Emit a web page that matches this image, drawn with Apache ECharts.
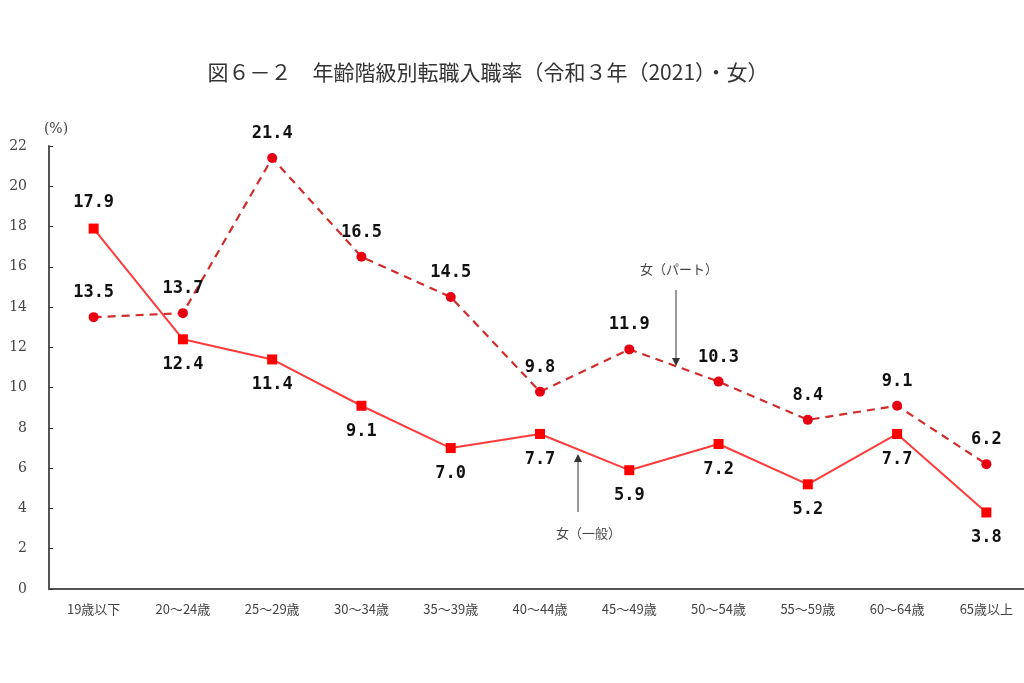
<!DOCTYPE html>
<html><head><meta charset="utf-8">
<script src="https://cdn.jsdelivr.net/npm/echarts@6/dist/echarts.min.js"></script>
<style>html,body{margin:0;padding:0;background:#fff}#c{width:1024px;height:683px}</style>
</head><body><div id="c"></div>
<script>
const categories = ['19歳以下','20～24歳','25～29歳','30～34歳','35～39歳','40～44歳','45～49歳','50～54歳','55～59歳','60～64歳','65歳以上'];
const ippan = [17.9, 12.4, 11.4, 9.1, 7.0, 7.7, 5.9, 7.2, 5.2, 7.7, 3.8];
const part = [13.5, 13.7, 21.4, 16.5, 14.5, 9.8, 11.9, 10.3, 8.4, 9.1, 6.2];
const ippanLabelPos = ['top','bottom','bottom','bottom','bottom','bottom','bottom','bottom','bottom','bottom','bottom'];
const titleText = '図６－２　年齢階級別転職入職率（令和３年（2021）・女）';

const chart = echarts.init(document.getElementById('c'));
const labelFont = {fontFamily:'DejaVu Sans Mono', fontWeight:'bold', fontSize:17, color:'#111'};
const fmt = p => p.value.toFixed(1);
chart.setOption({
  animation:false,
  backgroundColor:'#fff',
  title:{text:titleText, left:483, top:57, textAlign:'center',
    textStyle:{fontFamily:'Noto Sans CJK JP', fontWeight:'normal', fontSize:21, color:'#333'}},
  grid:{left:49, top:146, bottom:94, width:982, containLabel:false, outerBoundsMode:'none'},
  xAxis:{type:'category', data:categories, boundaryGap:true,
    axisLine:{lineStyle:{color:'#555', width:2}},
    axisTick:{alignWithLabel:true, inside:true, length:4, lineStyle:{color:'#333'}},
    axisLabel:{margin:14, fontFamily:'Noto Sans CJK JP', fontSize:13, color:'#444'}},
  yAxis:{type:'value', min:0, max:22, interval:2,
    name:'(%)', nameLocation:'end', nameGap:10,
    nameTextStyle:{fontFamily:'DejaVu Serif', fontSize:14, color:'#444', align:'center', padding:[0,0,0,14]},
    splitLine:{show:false},
    axisLine:{show:true, lineStyle:{color:'#555', width:2}},
    axisTick:{show:true, inside:true, length:4, lineStyle:{color:'#333'}},
    axisLabel:{margin:22, fontFamily:'DejaVu Serif', fontSize:14, color:'#444'}},
  series:[
    {name:'女（パート）', type:'line', data:part, symbol:'circle', symbolSize:10,
      itemStyle:{color:'#e60012'}, lineStyle:{color:'#d22b2b', width:2.2, type:[8,6]},
      label:{show:true, position:'top', distance:11, formatter:fmt, ...labelFont}},
    {name:'女（一般）', type:'line',
      data:ippan.map((v,j)=>({value:v, label:{position:ippanLabelPos[j]}})),
      symbol:'rect', symbolSize:10,
      itemStyle:{color:'#ff0000'}, lineStyle:{color:'#ff3b3b', width:2},
      label:{show:true, distance:12, formatter:fmt, ...labelFont, position:'bottom'}}
  ],
  graphic:[
    {type:'text', left:640, top:263, style:{text:'女（パート）', font:'13px "Noto Sans CJK JP"', fill:'#444'}},
    {type:'line', shape:{x1:676,y1:290,x2:676,y2:360}, style:{stroke:'#333', lineWidth:1}},
    {type:'polygon', shape:{points:[[672,358],[680,358],[676,366]]}, style:{fill:'#333'}},
    {type:'text', left:556, top:527, style:{text:'女（一般）', font:'13px "Noto Sans CJK JP"', fill:'#444'}},
    {type:'line', shape:{x1:578,y1:512,x2:578,y2:460}, style:{stroke:'#333', lineWidth:1}},
    {type:'polygon', shape:{points:[[574,462],[582,462],[578,454]]}, style:{fill:'#333'}}
  ]
});
</script></body></html>
